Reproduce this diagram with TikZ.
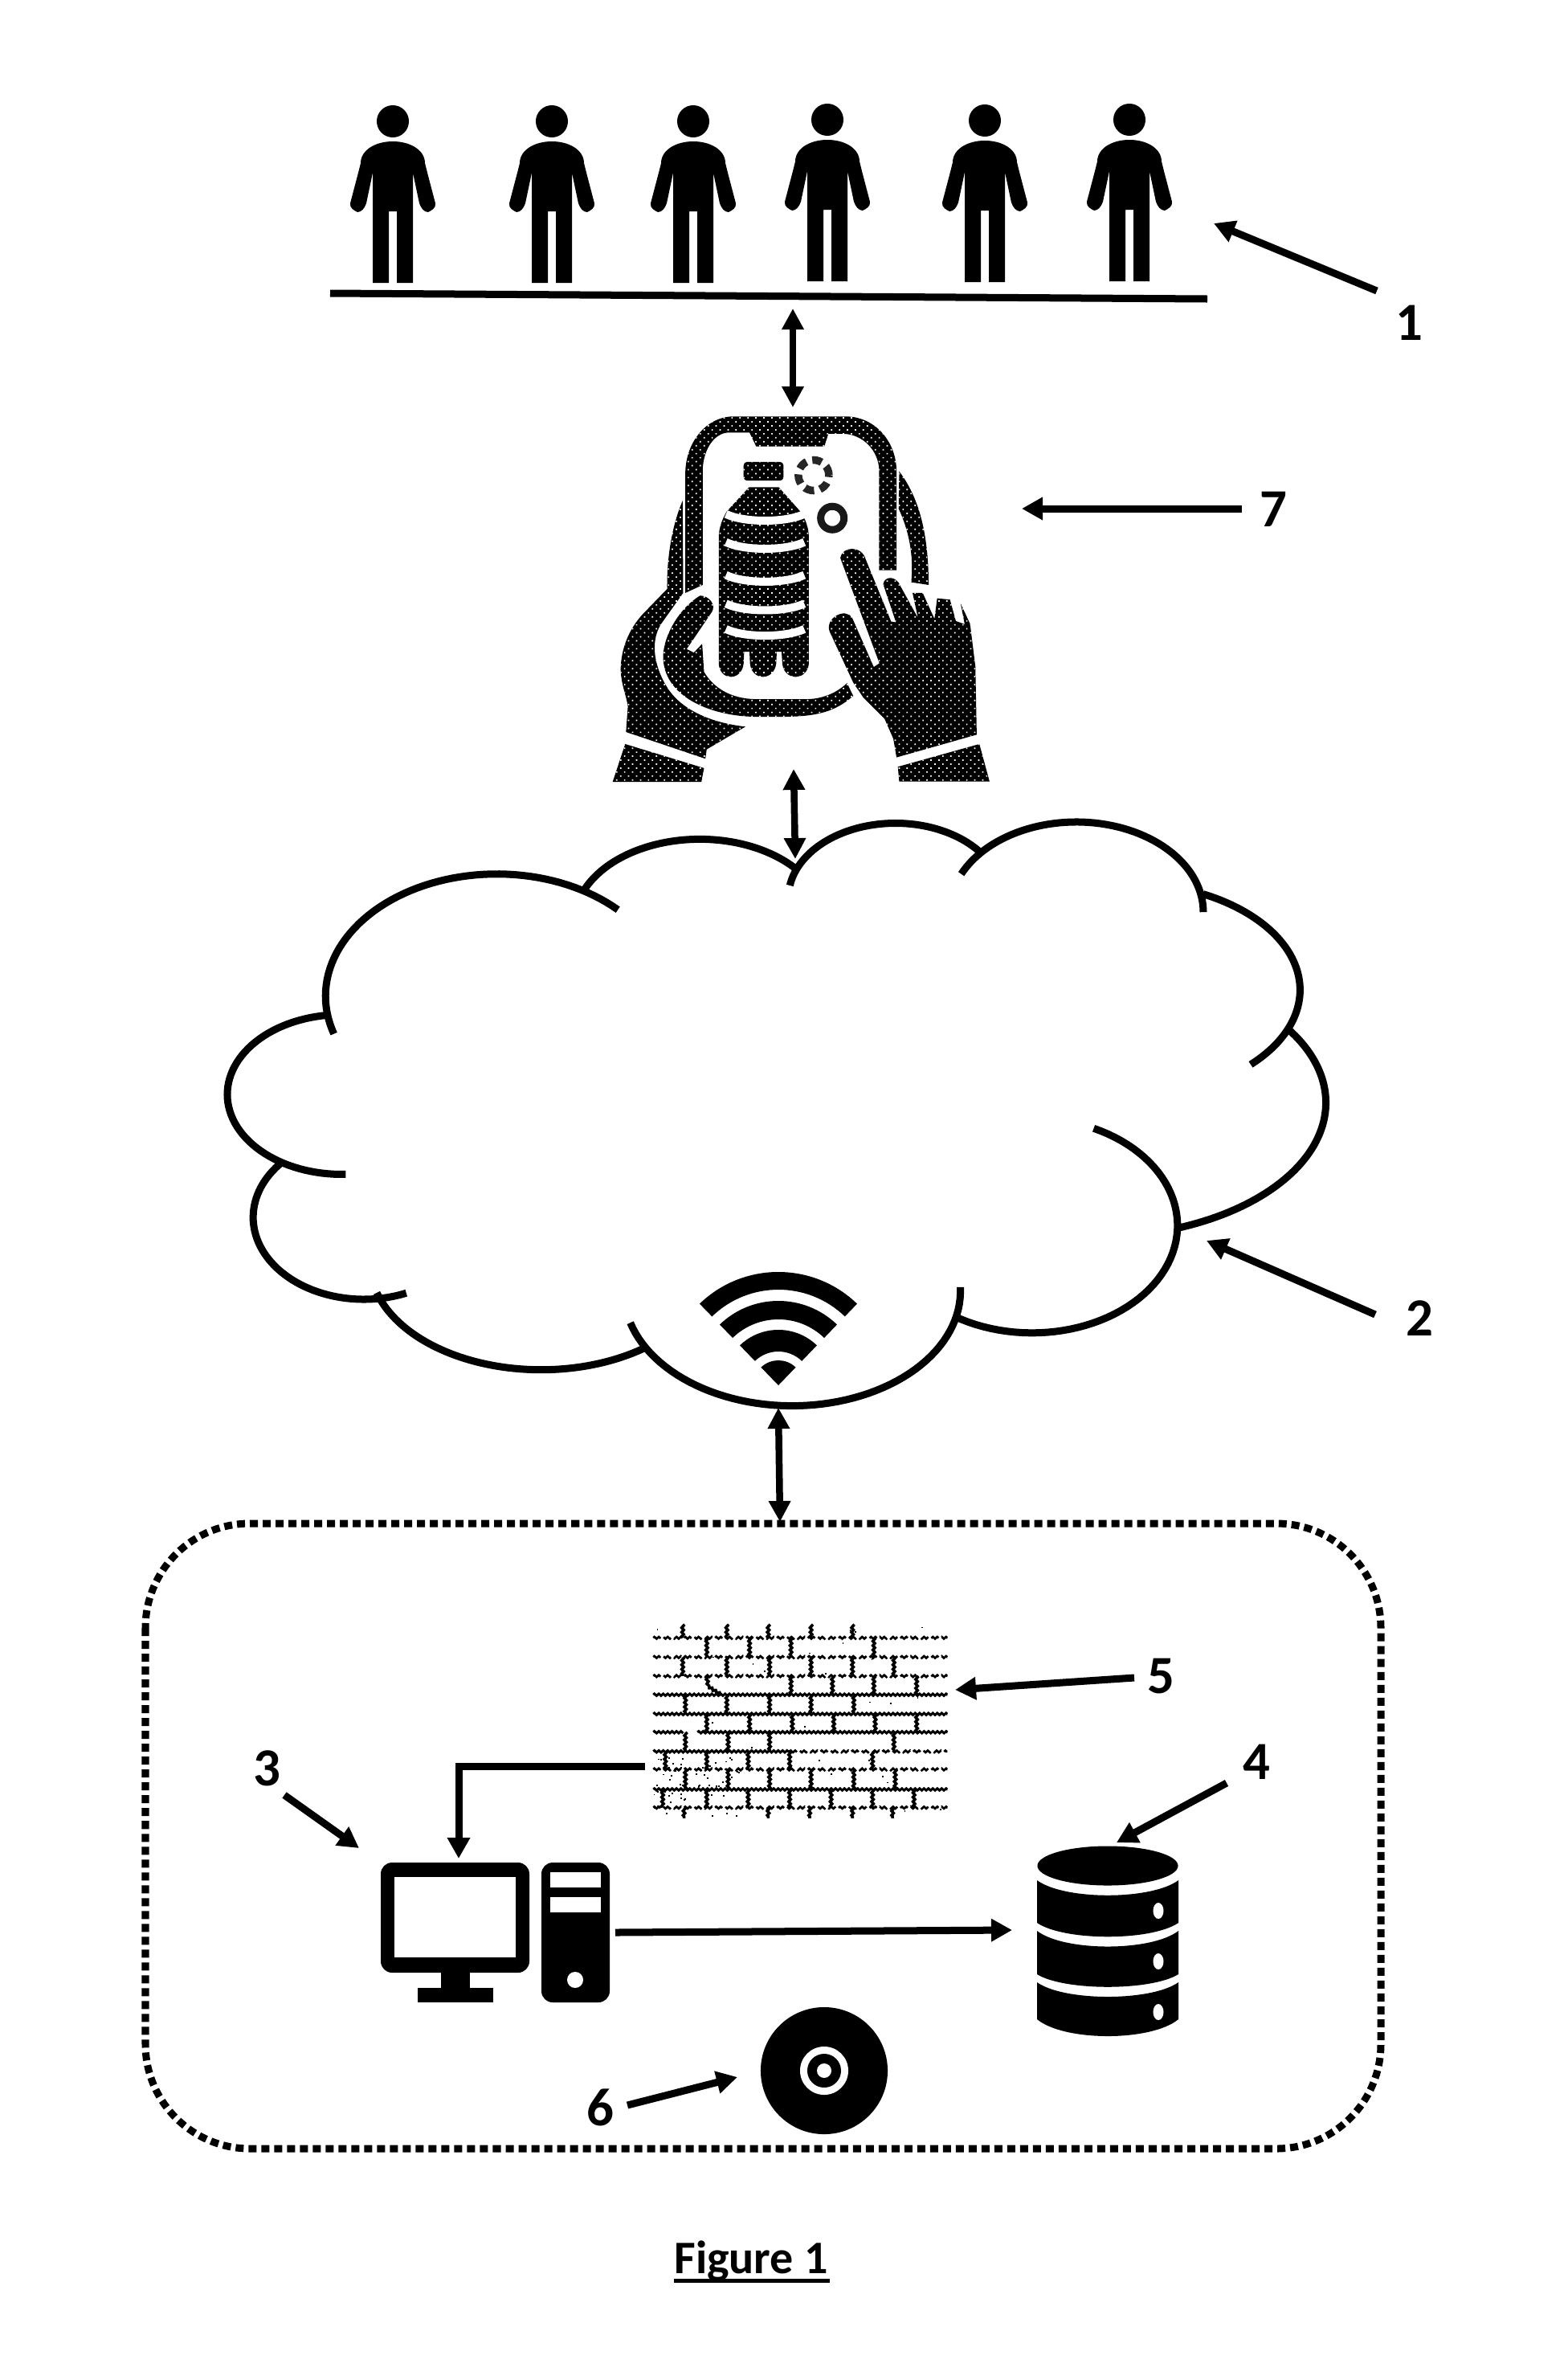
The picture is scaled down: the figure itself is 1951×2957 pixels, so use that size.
\documentclass[tikz,border=0pt]{standalone}
\usepackage{fontspec}
\setmainfont{Carlito}
\usetikzlibrary{arrows.meta,patterns.meta,decorations.pathmorphing}
\tikzset{
  lead/.style={line width=0.09cm,-{Triangle[length=0.26cm,width=0.27cm]}},
  twoway/.style={line width=0.085cm,{Triangle[length=0.26cm,width=0.26cm]}-{Triangle[length=0.26cm,width=0.26cm]}},
  numeral/.style={font=\bfseries\fontsize{19}{19}\selectfont,inner sep=0pt},
  halftone/.style={preaction={fill=black},pattern={Dots[distance=0.07cm,radius=0.012cm,angle=45]},pattern color=white},
  cloudline/.style={line width=0.09cm},
  mortar/.style={line width=0.027cm,decorate,decoration={zigzag,segment length=0.055cm,amplitude=0.012cm}},
  mortarfull/.style={mortar,line width=0.03cm},
  mortarstem/.style={mortar,line width=0.036cm},
  mortarbroken/.style={mortar,dash pattern=on 0.12cm off 0.05cm},
  person/.pic={
    \fill (0,20) ellipse[x radius=0.2cm,y radius=0.2cm];
    \fill (0,45) .. controls (22,45) and (40,56) .. (40,72)
      -- (43,84) -- (53,122) .. controls (54,128) and (48,131) .. (44,133)
      .. controls (39,133) and (35,128) .. (33,122) -- (25,84) -- (25,221) -- (5,221)
      -- (5,132) -- (-5,132) -- (-5,221) -- (-25,221) -- (-25,84) -- (-33,122)
      .. controls (-35,128) and (-39,133) .. (-44,133)
      .. controls (-48,131) and (-54,128) .. (-53,122) -- (-43,84) -- (-40,72)
      .. controls (-40,56) and (-22,45) .. (0,45) -- cycle;
  }
}
% one lobe of the cloud: centre, two radii, start and end parameter
\newcommand{\cloudlobe}[6]{%
  \draw[cloudline] plot[domain=#5:#6,samples=60,variable=\t]
    ({#1+#3*cos(\t)},{#2-#4*sin(\t)});}
\begin{document}
\begin{tikzpicture}[x=0.01cm,y=-0.01cm]
\useasboundingbox (0,0) rectangle (1951,2957);
\fill[white] (0,0) rectangle (1951,2957);

% group of users standing on a line
\pic at (489,131) {person};
\pic at (687,131) {person};
\pic at (863,131) {person};
\pic at (1030,129) {person};
\pic at (1226,130) {person};
\pic at (1406,129) {person};
\coordinate (groundL) at (411,365);
\coordinate (groundR) at (1503,372);
\draw[line width=0.09cm] (groundL) -- (groundR);

% phone held in two hands, showing a bottle
\begin{scope}[shift={(740,490)},x=0.0033333cm,y=-0.0033333cm]
  \path[halftone] (340,745) -- (340,300) .. controls (340,180) and (420,85) .. (520,85)
    -- (940,85) .. controls (1050,85) and (1130,180) .. (1130,290) -- (1130,660) -- (1065,660)
    -- (1065,290) .. controls (1065,210) and (1000,150) .. (930,150) -- (875,150)
    -- (860,197) -- (605,197) -- (580,145) -- (500,145)
    .. controls (440,150) and (405,220) .. (405,290) -- (405,715) -- cycle;
  \path[halftone] (1140,290) .. controls (1200,370) and (1250,490) .. (1250,715)
    -- (1185,705) .. controls (1195,600) and (1175,510) .. (1138,430) -- cycle;
  \path[halftone] (330,400) .. controls (295,480) and (270,600) .. (272,730) -- (180,825)
    .. controls (130,880) and (100,950) .. (98,1030) .. controls (100,1090) and (120,1130) .. (125,1170)
    -- (118,1265) -- (415,1365) -- (420,1330) -- (565,1245)
    .. controls (430,1230) and (330,1180) .. (280,1110) .. controls (225,1030) and (205,930) .. (250,860)
    -- (332,745) -- cycle;
  \path[halftone] (395,755) .. controls (430,755) and (455,790) .. (440,815) -- (345,955) -- (372,968)
    -- (403,935) -- (410,1040) .. controls (445,1100) and (510,1140) .. (600,1142)
    -- (800,1142) .. controls (860,1140) and (910,1115) .. (945,1082) -- (968,1130)
    .. controls (900,1190) and (830,1208) .. (700,1208) -- (600,1208)
    .. controls (430,1205) and (255,1130) .. (257,980) .. controls (260,900) and (320,800) .. (395,755) -- cycle;
  \path[halftone] (115,1310) -- (410,1400) -- (400,1452) -- (68,1452) -- cycle;
  \path[halftone] (1135,1395) -- (1440,1310) -- (1478,1450) -- (1140,1450) -- cycle;
  \path[halftone] (920,615) .. controls (925,570) and (1000,565) .. (1015,620) -- (1110,852) -- (1128,855)
    -- (1080,712) .. controls (1085,680) and (1130,680) .. (1145,720) -- (1210,838) -- (1190,745)
    -- (1228,745) -- (1272,842) -- (1282,765) -- (1330,770) -- (1352,850) -- (1385,862)
    -- (1370,785) -- (1405,860) -- (1425,1020) -- (1430,1275) -- (1130,1360) -- (1118,1290)
    -- (1085,1215) -- (1005,1135) -- (968,1080) -- (880,890)
    .. controls (860,840) and (940,795) .. (965,840) -- (1045,1022) -- (1066,1008) -- cycle;
  \path[halftone,rounded corners=1.2pt] (558,255) rectangle (707,325);
  \path[halftone] (578,350) -- (690,350) -- (770,440) .. controls (790,470) and (802,500) .. (802,540)
    -- (802,1010) .. controls (795,1075) and (710,1075) .. (703,1010) -- (700,965) -- (682,965) -- (680,1010)
    .. controls (670,1075) and (590,1075) .. (582,1010) -- (580,965) -- (560,965) -- (558,1010)
    .. controls (550,1075) and (470,1075) .. (465,1010) -- (465,540)
    .. controls (465,500) and (478,470) .. (495,440) -- cycle;
  \foreach \yy in {450,555,678,785,880}
    \draw[white,line width=0.1cm] (492,\yy) .. controls (560,\yy+33) and (715,\yy+33) .. (785,\yy);
  \draw[black!85,line width=0.095cm,dash pattern=on 0.12cm off 0.075cm] (820,305) circle[radius=0.19cm];
  \draw[black!90,line width=0.09cm] (890,465) circle[radius=0.145cm];
\end{scope}

% network cloud, drawn as overlapping elliptical lobes
\begin{scope}[shift={(260,1000)},x=0.009184cm,y=-0.005102cm]
  \cloudlobe{390}{470}{232}{298}{198}{45}
  \cloudlobe{665}{290}{170}{203}{157}{40}
  \cloudlobe{930}{230}{145}{182}{170.5}{35.6}
  \cloudlobe{1175}{265}{172}{220}{155}{0}
  \cloudlobe{1240}{455}{238}{262}{63.4}{-44}
  \cloudlobe{1200}{730}{313}{328}{33.3}{-68.5}
  \cloudlobe{1115}{1030}{197}{262}{64.9}{-122.2}
  \cloudlobe{790}{1190}{228}{280}{2}{-164}
  \cloudlobe{450}{1120}{232}{262}{-52}{-163.6}
  \cloudlobe{210}{1010}{150}{200}{-67.5}{-222.6}
  \cloudlobe{180}{710}{155}{195}{-88}{-262.6}
\end{scope}

% wireless symbol at the foot of the cloud
\begin{scope}[shift={(969,1724)},x=0.01cm,y=0.01cm]
  \fill (46:141) arc[start angle=46,end angle=134,radius=1.41cm] -- (134:119) arc[start angle=134,end angle=46,radius=1.19cm] -- cycle;
  \fill (46:105) arc[start angle=46,end angle=134,radius=1.05cm] -- (134:82) arc[start angle=134,end angle=46,radius=0.82cm] -- cycle;
  \fill (46:69) arc[start angle=46,end angle=134,radius=0.69cm] -- (134:42) arc[start angle=134,end angle=46,radius=0.42cm] -- cycle;
  \fill (0,0) -- (46:31) arc[start angle=46,end angle=134,radius=0.31cm] -- cycle;
\end{scope}

% brick wall standing for the firewall
\begin{scope}[shift={(780,2000)},x=0.0033333cm,y=-0.0033333cm]
  \foreach \yy in {328,400,682}
    \draw[mortarfull] (100,\yy) -- (1200,\yy);
  \foreach \yy in {115,187,258,607,750}
    \draw[mortarbroken] (100,\yy) -- (1200,\yy);
  \draw[mortarfull] (100,468) -- (215,468) (265,468) -- (1200,468);
  \draw[mortarfull] (100,540) -- (610,540);
  \draw[mortarbroken] (610,540) -- (1200,540);
  \foreach \ya/\yb/\xlist in {
      65/115/{210,375,530,690,845},
      115/187/{300,460,615,925},
      187/258/{210,375,535,690,845,1000},
      258/328/{615,770,925,1085},
      328/400/{220,375,535,690,850},
      400/468/{300,460,620,775,930,1085},
      468/540/{220,380,535,1000},
      540/607/{145,300,455,610,920},
      607/682/{220,380,535,690,850,1005},
      682/750/{135,300,455,610,765,920,1075},
      750/790/{215,530,685,845,995}}{
    \foreach \xx in \xlist
      \draw[mortarstem] (\xx,\ya) -- (\xx,\yb);
  }
  % crack across one brick
  \draw[mortarstem] (300,258) -- (305,295) -- (325,310) -- (355,328);
  \pgfmathsetseed{11}
  \foreach \i in {1,...,55}{
    \pgfmathsetmacro{\dx}{100+rnd*330}
    \pgfmathsetmacro{\dy}{550+rnd*240}
    \fill (\dx,\dy) rectangle ++(6,6);
  }
  \foreach \i in {1,...,35}{
    \pgfmathsetmacro{\dx}{100+rnd*1100}
    \pgfmathsetmacro{\dy}{70+rnd*720}
    \fill (\dx,\dy) rectangle ++(5,5);
  }
\end{scope}

% desktop computer
\fill[rounded corners=4pt] (474,2318) rectangle (659,2455);
\fill[white] (491,2336) rectangle (642,2436);
\fill (549,2455) rectangle (585,2476);
\fill (520,2474) rectangle (614,2492);
\fill[rounded corners=4pt] (674,2318) rectangle (759,2492);
\fill[white] (685,2330) rectangle (748,2349);
\fill[white] (685,2361) rectangle (748,2380);
\fill[white] (716,2464) circle[radius=0.1cm];

% database made of three stacked discs
\fill (1379,2322) ellipse[x radius=0.875cm,y radius=0.245cm];
\foreach \st/\ct/\sb/\cb in {2340/2365/2393/2416,2403/2429/2457/2478,2467/2491/2513/2541}{
  \fill (1291,\st) .. controls (1325,\ct) and (1433,\ct) .. (1467,\st) -- (1467,\sb)
    .. controls (1433,\cb) and (1325,\cb) .. (1291,\sb) -- cycle;
}
\foreach \yy in {2378,2441,2504}
  \fill[white] (1442,\yy) ellipse[x radius=0.065cm,y radius=0.1cm];

% optical disc
\fill (1026,2577) circle[radius=0.79cm];
\fill[white] (1026,2577) circle[radius=0.3cm];
\fill (1026,2577) circle[radius=0.21cm];
\fill[white] (1026,2577) circle[radius=0.09cm];

% dotted enclosure of the server side
\coordinate (boxtop) at (971,1894);
\draw[line width=0.09cm,dash pattern=on 0.1cm off 0.06cm,rounded corners=1.3cm] (181,1896) rectangle (1719,2674);

% two-way links
\coordinate (usersfoot) at (987,384);
\coordinate (phonetop) at (987,507);
\coordinate (phonefoot) at (988,957);
\coordinate (cloudtop) at (990,1069);
\coordinate (cloudfoot) at (969,1752);
\draw[twoway] (usersfoot) -- (phonetop);
\draw[twoway] (phonefoot) -- (cloudtop);
\draw[twoway] (cloudfoot) -- (boxtop);

% one-way links between the components
\coordinate (wallout) at (803,2198);
\coordinate (pcin) at (571,2313);
\coordinate (pcout) at (766,2405);
\coordinate (dbin) at (1260,2402);
\draw[lead] (wallout) -| (pcin);
\draw[lead] (pcout) -- (dbin);

% numbered reference arrows
\node[numeral] (n1) at (1754,402) {1};
\node[numeral] (n2) at (1767,1641) {2};
\node[numeral] (n3) at (332,2201) {3};
\node[numeral] (n4) at (1564,2193) {4};
\node[numeral] (n5) at (1445,2086) {5};
\node[numeral] (n6) at (747,2623) {6};
\node[numeral] (n7) at (1585,634) {7};
\coordinate (t1) at (1511,278);
\coordinate (t2) at (1502,1544);
\coordinate (t3) at (447,2300);
\coordinate (t4) at (1390,2293);
\coordinate (t5) at (1189,2103);
\coordinate (t6) at (918,2585);
\coordinate (t7) at (1272,633);
\draw[lead] (1714,362) coordinate (s1) -- (t1);
\draw[lead] (1712,1636) coordinate (s2) -- (t2);
\draw[lead] (354,2234) coordinate (s3) -- (t3);
\draw[lead] (1527,2219) coordinate (s4) -- (t4);
\draw[lead] (1412,2088) coordinate (s5) -- (t5);
\draw[lead] (781,2620) coordinate (s6) -- (t6);
\draw[lead] (1546,633) coordinate (s7) -- (t7);

% caption with its underline
\node[font=\bfseries\fontsize{16.5}{16.5}\selectfont,inner sep=0pt,anchor=base] (caption) at (935,2829) {Figure 1};
\coordinate (ulL) at (839,2838.5);
\coordinate (ulR) at (1033,2838.5);
\draw[line width=0.05cm] (ulL) -- (ulR);
\end{tikzpicture}
\end{document}
